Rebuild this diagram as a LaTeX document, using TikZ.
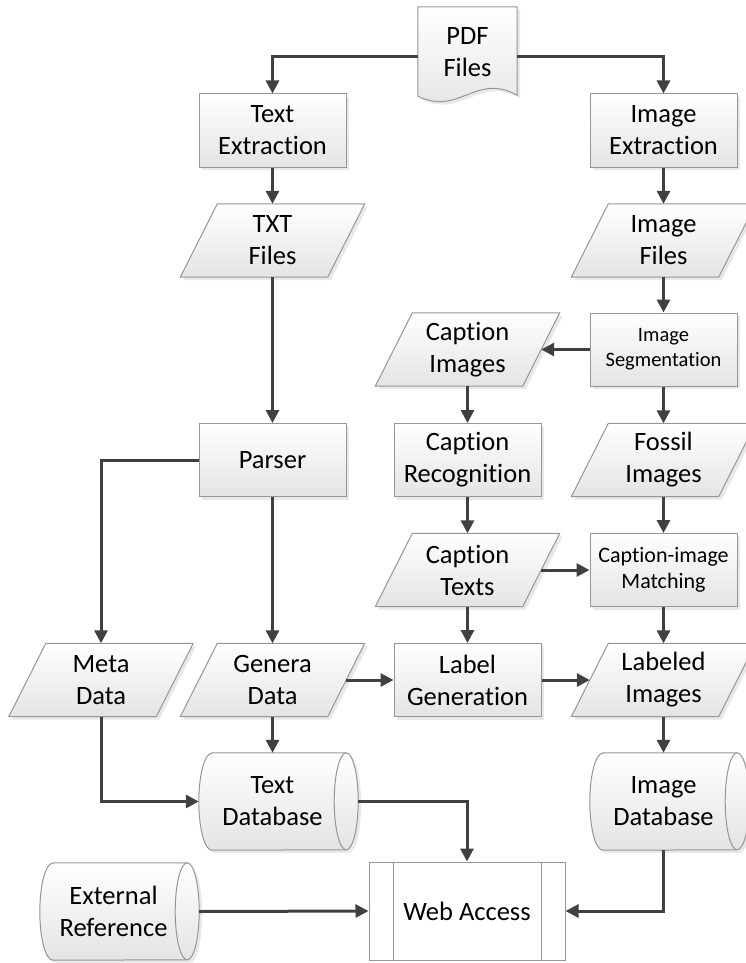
\documentclass[tikz,border=0pt]{standalone}
\usepackage{fontspec}
\setmainfont{Carlito}[RawFeature={-liga;-clig;-dlig;-rlig;-calt;-hlig}]
\usetikzlibrary{shadows,calc,arrows.meta}
\pgfdeclarelayer{bg}
\pgfsetlayers{bg,main}
\definecolor{edgec}{RGB}{150,150,150}
\definecolor{arrowc}{RGB}{64,64,64}
\definecolor{botc}{RGB}{228,228,228}
\newcommand\ti{t\kern0pt i}
\tikzset{
  shp/.style={draw=edgec, line width=1pt, top color=white, bottom color=botc,
    drop shadow={shadow xshift=3pt, shadow yshift=-3pt, opacity=0.18}},
  txtn/.style={font=\fontsize{26.5}{32}\selectfont, align=center, inner sep=0pt,
    minimum width=147pt, minimum height=73pt},
  boxnode/.style={txtn, rectangle, shp},
  dbnode/.style={txtn, minimum height=97pt},
  arr/.style={draw=arrowc, line width=3pt, -{Triangle[length=13pt,width=13pt]}},
}
\newcommand\ioshape[1]{%
  \begin{pgfonlayer}{bg}
  \path[shp] ($(#1.north west)+(18.5,0)$) -- ($(#1.north east)+(18.5,0)$)
    -- ($(#1.south east)+(-18.5,0)$) -- ($(#1.south west)+(-18.5,0)$) -- cycle;
  \end{pgfonlayer}}
\newcommand\dbshape[1]{%
  \begin{pgfonlayer}{bg}
  \path[shp] ($(#1.north west)+(13,0)$) -- (#1.north east)
    arc[start angle=90,end angle=-90,x radius=12pt,y radius=48.5pt]
    -- ($(#1.south west)+(13,0)$)
    arc[start angle=270,end angle=90,x radius=13pt,y radius=48.5pt] -- cycle;
  \draw[edgec, line width=1pt] (#1.north east)
    arc[start angle=90,end angle=270,x radius=12pt,y radius=48.5pt];
  \end{pgfonlayer}}
\begin{document}
\begin{tikzpicture}[x=1pt,y=-1pt]
\useasboundingbox (0,0) rectangle (746,963);

% document shape
\node[txtn, minimum width=99pt, minimum height=90pt] (pdf) at (467.5,52) {PDF\\Files};
\begin{pgfonlayer}{bg}
\path[shp] (pdf.north west) -- (pdf.north east) -- ($(pdf.south east)+(0,-2)$)
  .. controls ($(pdf.south east)+(-42,-25)$) and ($(pdf.south west)+(42,19)$) ..
  ($(pdf.south west)+(0,-1)$) -- cycle;
\end{pgfonlayer}

% row 1
\node[boxnode] (te) at (272.5,130.5) {Text\\Extrac\ti on};
\node[boxnode] (ie) at (663.5,130.5) {Image\\Extrac\ti on};
% row 2
\node[txtn] (txt) at (272.5,240.5) {TXT\\Files}; \ioshape{txt}
\node[txtn] (imf) at (663.5,240.5) {Image\\Files}; \ioshape{imf}
% row 3
\node[txtn] (capimg) at (467.5,349.5) {Caption\\Images}; \ioshape{capimg}
\node[boxnode, font=\fontsize{20.5}{25}\selectfont] (seg) at (663.5,349.5) {Image\\Segmenta\ti on};
% row 4
\node[boxnode] (parser) at (272.5,460) {Parser};
\node[boxnode] (caprec) at (467.5,460) {Caption\\Recogni\ti on};
\node[txtn] (fossil) at (663.5,460) {Fossil\\Images}; \ioshape{fossil}
% row 5
\node[txtn] (captxt) at (467.5,570) {Caption\\Texts}; \ioshape{captxt}
\node[boxnode, font=\fontsize{22}{26.5}\selectfont] (match) at (663.5,570) {Caption-image\\Matching};
% row 6
\node[txtn] (meta) at (101,680) {Meta\\Data}; \ioshape{meta}
\node[txtn] (genera) at (272.5,680) {Genera\\Data}; \ioshape{genera}
\node[boxnode] (labgen) at (467.5,680) {Label\\Genera\ti on};
\node[txtn] (labimg) at (663.5,680) {Labeled\\Images}; \ioshape{labimg}
% row 7
\node[dbnode] (tdb) at (272.5,801.5) {Text\\Database}; \dbshape{tdb}
\node[dbnode] (idb) at (663.5,801.5) {Image\\Database}; \dbshape{idb}
% row 8
\node[dbnode] (ext) at (113.5,911.5) {External\\Reference}; \dbshape{ext}
\node[txtn, draw=edgec, line width=1pt, fill=white, minimum width=196pt, minimum height=98pt] (web) at (467,911) {Web Access};
\draw[edgec, line width=1pt] ($(web.north west)+(25,0)$) -- ($(web.south west)+(25,0)$);
\draw[edgec, line width=1pt] ($(web.north east)+(-24,0)$) -- ($(web.south east)+(-24,0)$);

% connectors
\draw[arr] ($(pdf.west)+(0,5)$) -| (te.north);
\draw[arr] ($(pdf.east)+(0,5)$) -| (ie.north);
\draw[arr] (te.south) -- (txt.north);
\draw[arr] (ie.south) -- (imf.north);
\draw[arr] (txt.south) -- (parser.north);
\draw[arr] (imf.south) -- (seg.north);
\draw[arr] (seg.west) -- (capimg.east);
\draw[arr] (capimg.south) -- (caprec.north);
\draw[arr] (seg.south) -- (fossil.north);
\draw[arr] (parser.west) -| (meta.north);
\draw[arr] (parser.south) -- (genera.north);
\draw[arr] (caprec.south) -- (captxt.north);
\draw[arr] (fossil.south) -- (match.north);
\draw[arr] (captxt.east) -- (match.west);
\draw[arr] (captxt.south) -- (labgen.north);
\draw[arr] (match.south) -- (labimg.north);
\draw[arr] (genera.east) -- (labgen.west);
\draw[arr] (labgen.east) -- (labimg.west);
\draw[arr] (labimg.south) -- (idb.north);
\draw[arr] (genera.south) -- (tdb.north);
\draw[arr] (meta.south) |- (tdb.west);
\draw[arr] ($(tdb.east)+(12,0)$) -| (web.north);
\draw[arr] ($(ext.east)+(12,0)$) -- (web.west);
\draw[arr] (idb.south) |- (web.east);
\end{tikzpicture}
\end{document}
